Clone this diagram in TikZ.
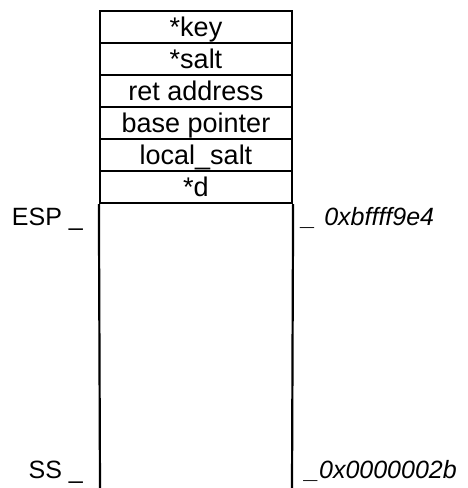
\documentclass[tikz,border=0pt]{standalone}
\usepackage{fontspec}
\setmainfont{Liberation Sans}
\begin{document}
\begin{tikzpicture}[x=1pt,y=-1pt,
  cell/.style={draw,line width=2.2pt,rectangle,minimum width=192pt,minimum height=32pt,
    inner sep=0pt,text height=22pt,text depth=4pt,font=\fontsize{27}{30}\selectfont},
  lbl/.style={inner sep=0pt,font=\fontsize{25}{28}\selectfont}]
\useasboundingbox (0,0) rectangle (467,488);
\node[cell] (c1) at (196,27) {*key};
\node[cell] (c2) at (196,59) {*salt};
\node[cell] (c3) at (196,91) {ret address};
\node[cell] (c4) at (196,123) {base pointer};
\node[cell] (c5) at (196,155) {local\_salt};
\node[cell] (c6) at (196,187) {*d};
\coordinate (bl) at (100,489);
\coordinate (br) at (292,489);
\draw[line width=2.2pt] (c6.south west) -- (bl);
\draw[line width=2.2pt] (c6.south east) -- (br);
\node[lbl,anchor=base east] (esp) at (83,225) {ESP \_};
\node[lbl,anchor=base west] (espaddr) at (300,225) {\textbf{\_}\hspace{10pt}\textit{0xbffff9e4}};
\node[lbl,anchor=base east] (ss) at (83,478) {SS \_};
\node[lbl,anchor=base west] (ssaddr) at (305,478) {\textit{\_0x0000002b}};
\end{tikzpicture}
\end{document}
